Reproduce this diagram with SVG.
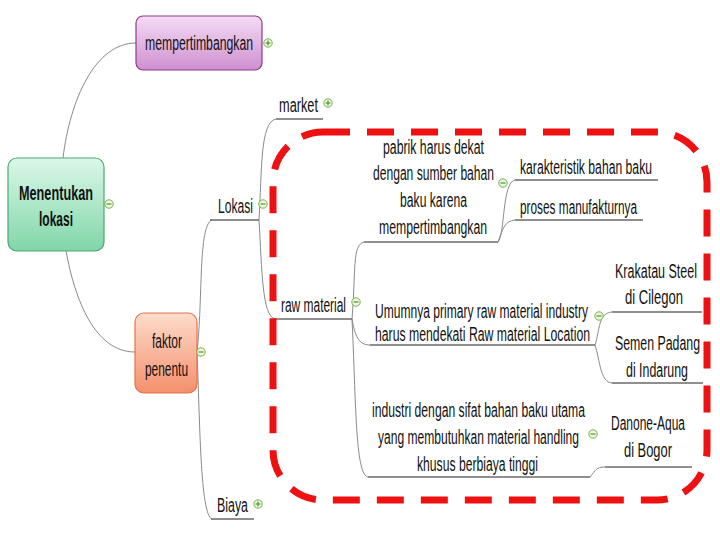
<svg xmlns="http://www.w3.org/2000/svg" width="720" height="540" viewBox="0 0 720 540">
<defs>
<linearGradient id="gPurple" x1="0" y1="0" x2="0" y2="1"><stop offset="0" stop-color="#f4dcf4"/><stop offset="1" stop-color="#cf8fd0"/></linearGradient>
<linearGradient id="gGreen" x1="0" y1="0" x2="0" y2="1"><stop offset="0" stop-color="#dcf7e8"/><stop offset="1" stop-color="#80d6a8"/></linearGradient>
<linearGradient id="gOrange" x1="0" y1="0" x2="0" y2="1"><stop offset="0" stop-color="#fddccc"/><stop offset="1" stop-color="#f5906c"/></linearGradient>
<g id="plus"><circle r="4.2" fill="#eef8e2" stroke="#77b044" stroke-width="1"/><path d="M-2.5,0H2.5M0,-2.5V2.5" stroke="#3f8a25" stroke-width="1.1"/></g>
<g id="minus"><circle r="4.2" fill="#eef8e2" stroke="#77b044" stroke-width="1"/><path d="M-2.5,0H2.5" stroke="#3f8a25" stroke-width="1.1"/></g>
</defs>
<style>
text{font-family:"Liberation Sans",Arial,sans-serif;font-size:20px;fill:#111;}
.b{font-weight:bold;}
.c{fill:none;stroke:#8a8a8a;stroke-width:1;}
.u{fill:none;stroke:#6a6a6a;stroke-width:1.3;}
</style>
<rect width="720" height="540" fill="#ffffff"/>

<g id="connectors">
<path class="c" d="M63,158 C70,100 95,43 136,43"/>
<path class="c" d="M66,251 C75,300 95,352 135,352"/>
<path class="c" d="M197,352 C203,300 198,225 212,220"/>
<path class="c" d="M197,352 C200,420 200,515 212,519"/>
<path class="c" d="M259,220 C262,170 260,122 276,119"/>
<path class="c" d="M259,220 C262,270 262,316 275,319"/>
<path class="c" d="M352,319 C356,270 352,245 364,242"/>
<path class="c" d="M352,319 C355,335 358,345 370,345"/>
<path class="c" d="M352,319 C356,400 355,475 368,477"/>
<path class="c" d="M498,242 C505,235 502,182 515,180"/>
<path class="c" d="M498,242 C503,228 505,221 515,220"/>
<path class="c" d="M595,345 C600,330 598,313 612,312"/>
<path class="c" d="M595,345 C600,360 600,382 612,383"/>
<path class="c" d="M590,477 C596,470 596,467 605,467"/>
</g>

<g id="n-mempertimbangkan">
<rect x="136" y="16" width="126" height="54" rx="7" fill="url(#gPurple)" stroke="#8e3a8e" stroke-width="1.2"/>
<text x="145" y="50" textLength="108" lengthAdjust="spacingAndGlyphs">mempertimbangkan</text>
<use href="#plus" x="268" y="43"/>
</g>

<g id="n-menentukan">
<rect x="8" y="158" width="96" height="93" rx="9" fill="url(#gGreen)" stroke="#4ea872" stroke-width="1.2"/>
<text class="b" x="19" y="200" textLength="74" lengthAdjust="spacingAndGlyphs">Menentukan</text>
<text class="b" x="39" y="226" textLength="34" lengthAdjust="spacingAndGlyphs">lokasi</text>
<use href="#minus" x="109" y="204"/>
</g>

<g id="n-faktor">
<rect x="135" y="313" width="62" height="80" rx="9" fill="url(#gOrange)" stroke="#e2744f" stroke-width="1.2"/>
<text x="152" y="348" textLength="30" lengthAdjust="spacingAndGlyphs">faktor</text>
<text x="145" y="376" textLength="43" lengthAdjust="spacingAndGlyphs">penentu</text>
<use href="#minus" x="201" y="352"/>
</g>

<g id="n-market">
<text x="279" y="112" textLength="39" lengthAdjust="spacingAndGlyphs">market</text>
<path class="u" d="M276,119 H323"/>
<use href="#plus" x="328" y="103"/>
</g>

<g id="n-lokasi">
<text x="218" y="213" textLength="35" lengthAdjust="spacingAndGlyphs">Lokasi</text>
<path class="u" d="M210,220 H259"/>
<use href="#minus" x="263" y="204"/>
</g>

<g id="n-biaya">
<text x="217" y="512" textLength="31" lengthAdjust="spacingAndGlyphs">Biaya</text>
<path class="u" d="M211,519 H254"/>
<use href="#plus" x="258" y="504"/>
</g>

<g id="n-raw">
<text x="281" y="312" textLength="65" lengthAdjust="spacingAndGlyphs">raw material</text>
<path class="u" d="M274,319 H352"/>
<use href="#minus" x="356" y="302"/>
</g>

<g id="n-pabrik">
<text x="383" y="154" textLength="101" lengthAdjust="spacingAndGlyphs">pabrik harus dekat</text>
<text x="373" y="180" textLength="121" lengthAdjust="spacingAndGlyphs">dengan sumber bahan</text>
<text x="400" y="207" textLength="67" lengthAdjust="spacingAndGlyphs">baku karena</text>
<text x="379" y="234" textLength="108" lengthAdjust="spacingAndGlyphs">mempertimbangkan</text>
<path class="u" d="M364,242 H498"/>
<use href="#minus" x="503" y="183"/>
</g>

<g id="n-karakteristik">
<text x="520" y="174" textLength="132" lengthAdjust="spacingAndGlyphs">karakteristik bahan baku</text>
<path class="u" d="M515,180 H658"/>
</g>

<g id="n-proses">
<text x="520" y="214" textLength="117" lengthAdjust="spacingAndGlyphs">proses manufakturnya</text>
<path class="u" d="M515,220 H643"/>
</g>

<g id="n-umumnya">
<text x="375" y="318" textLength="213" lengthAdjust="spacingAndGlyphs">Umumnya primary raw material industry</text>
<text x="375" y="341" textLength="215" lengthAdjust="spacingAndGlyphs">harus mendekati Raw material Location</text>
<path class="u" d="M370,345 H595"/>
<use href="#minus" x="599" y="316"/>
</g>

<g id="n-krakatau">
<text x="615" y="278" textLength="82" lengthAdjust="spacingAndGlyphs">Krakatau Steel</text>
<text x="625" y="304" textLength="58" lengthAdjust="spacingAndGlyphs">di Cilegon</text>
<path class="u" d="M612,312 H702"/>
</g>

<g id="n-semen">
<text x="615" y="350" textLength="85" lengthAdjust="spacingAndGlyphs">Semen Padang</text>
<text x="626" y="377" textLength="62" lengthAdjust="spacingAndGlyphs">di Indarung</text>
<path class="u" d="M612,383 H703"/>
</g>

<g id="n-industri">
<text x="372" y="417" textLength="213" lengthAdjust="spacingAndGlyphs">industri dengan sifat bahan baku utama</text>
<text x="378" y="444" textLength="201" lengthAdjust="spacingAndGlyphs">yang membutuhkan material handling</text>
<text x="417" y="471" textLength="121" lengthAdjust="spacingAndGlyphs">khusus berbiaya tinggi</text>
<path class="u" d="M368,477 H590"/>
<use href="#minus" x="593" y="434"/>
</g>

<g id="n-danone">
<text x="611" y="430" textLength="74" lengthAdjust="spacingAndGlyphs">Danone-Aqua</text>
<text x="624" y="457" textLength="48" lengthAdjust="spacingAndGlyphs">di Bogor</text>
<path class="u" d="M605,467 H692"/>
</g>

<g id="highlight">
<rect x="273" y="132" width="434" height="368" rx="50" fill="none" stroke="#ee1111" stroke-width="7" stroke-dasharray="27 17"/>
</g>
</svg>
